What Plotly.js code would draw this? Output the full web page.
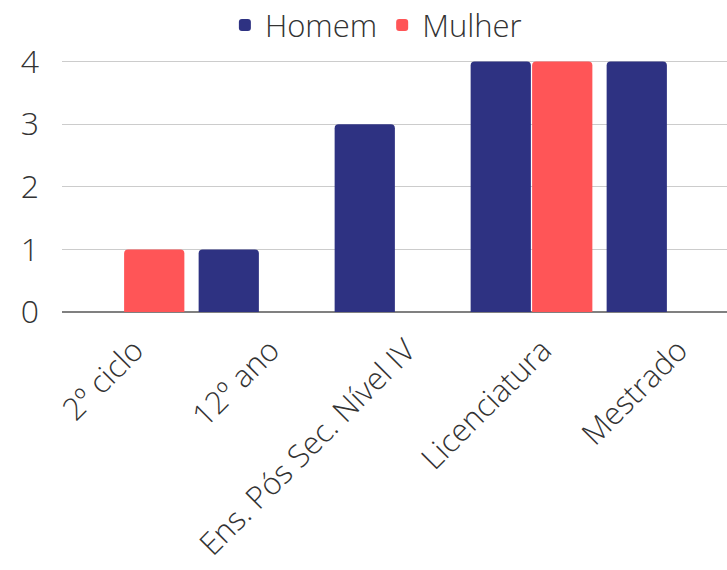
<!DOCTYPE html>
<html>
<head>
<meta charset="utf-8">
<script src="https://cdn.plot.ly/plotly-3.0.1.min.js"></script>
<style>html,body{margin:0;padding:0;background:#fff;}#chart{width:727px;height:570px;}</style>
</head>
<body>
<div id="chart"></div>
<script>
var categories = ["2º ciclo", "12º ano", "Ens. Pós Sec. Nível IV", "Licenciatura", "Mestrado"];
var homem = [null, 1, 3, 4, 4];
var mulher = [1, null, null, 4, null];
var yTicks = [0, 1, 2, 3, 4];

var fontFamily = "'Open Sans', 'Noto Sans', sans-serif";
var textColor = "#333333";

var data = [
  {type: "bar", name: "Homem", x: categories, y: homem,
   marker: {color: "#2E3282", cornerradius: 4}},
  {type: "bar", name: "Mulher", x: categories, y: mulher,
   marker: {color: "#FF5557", cornerradius: 4}}
];

var layout = {
  width: 727, height: 570,
  margin: {l: 62, r: 0, t: 49, b: 258, autoexpand: false},
  paper_bgcolor: "#ffffff", plot_bgcolor: "#ffffff",
  font: {family: fontFamily, color: textColor, size: 30, weight: 300},
  barmode: "group",
  bargap: 0.096,
  bargroupgap: 0.02,
  showlegend: true,
  legend: {orientation: "h", x: 0.472, xanchor: "center", y: 1.09, yanchor: "middle",
           font: {size: 31, color: textColor, family: fontFamily, weight: 300},
           itemsizing: "constant", traceorder: "normal", itemwidth: 30},
  xaxis: {type: "category", range: [-0.4522, 4.4375], tickangle: -45,
          showgrid: false, zeroline: false, showline: false, ticks: "",
          automargin: false,
          ticklabelstandoff: 13, ticklabelshift: 11,
          tickfont: {size: 31, color: textColor, family: fontFamily, weight: 300}},
  yaxis: {range: [0, 4.2], tickvals: yTicks, ticktext: yTicks.map(String),
          showgrid: true, gridcolor: "#cccccc", gridwidth: 1,
          zeroline: true, zerolinecolor: "#808080", zerolinewidth: 2,
          showline: false, ticks: "", ticklabelstandoff: 22, automargin: false,
          tickfont: {size: 32, color: textColor, family: fontFamily, weight: 300}}
};

Plotly.newPlot("chart", data, layout, {displayModeBar: false, staticPlot: true});
</script>
</body>
</html>
